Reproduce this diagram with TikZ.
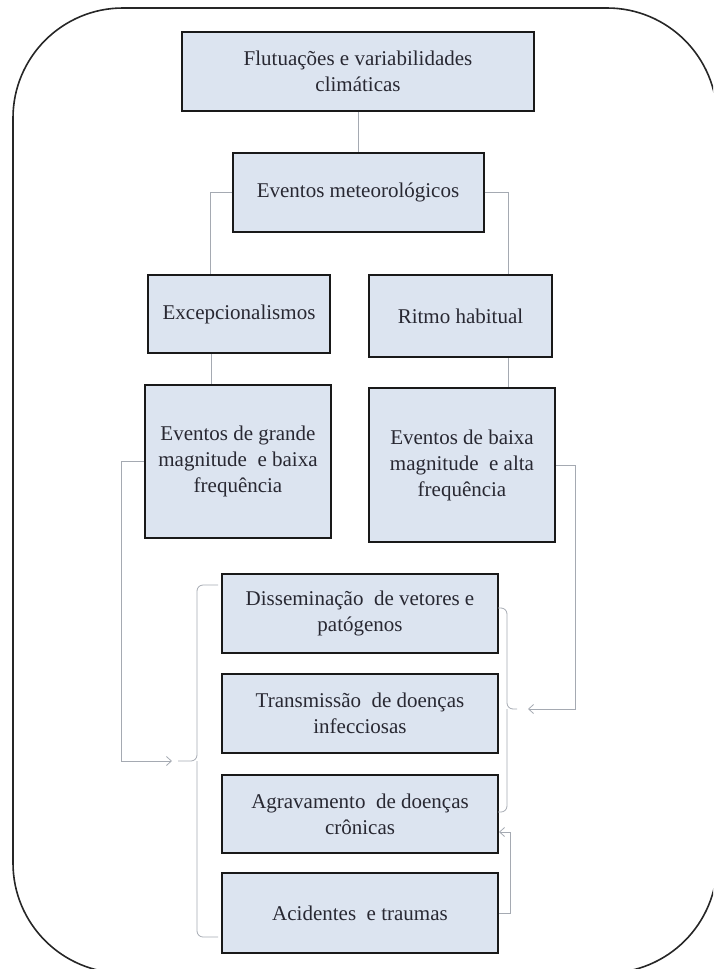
\documentclass[tikz,border=0pt]{standalone}
\usepackage{fontspec}
\setmainfont{Liberation Serif}
\usetikzlibrary{arrows.meta}
\definecolor{boxfill}{RGB}{220,228,240}
\definecolor{linkgray}{RGB}{165,170,178}
\definecolor{textgray}{RGB}{40,40,50}

\begin{document}
\begin{tikzpicture}[x=1pt, y=-1pt,
    every node/.style={draw=black!90, line width=2pt, fill=boxfill, align=center, inner sep=0pt,
        text=textgray, font=\fontsize{21}{26}\selectfont},
    link/.style={draw=linkgray, line width=0.8pt},
    feed/.style={link, -{Straight Barb[length=5pt,width=9pt]}}]
    \useasboundingbox (0,0) rectangle (713,969);

    % Frame
    \begin{scope}
        \clip (0,0) rectangle (713,969);
        \draw[line width=1.6pt, draw=black!85, rounded corners=110pt] (13,8) rectangle (717,973);
    \end{scope}

    % Nodes
    \node[minimum width=352pt, minimum height=79pt] (clima) at (358, 71.5) {Flutuações e variabilidades\\climáticas};
    \node[minimum width=251pt, minimum height=79pt] (meteo) at (358, 192.5) {Eventos meteorológicos};
    \node[minimum width=182pt, minimum height=78pt] (excep) at (239, 314) {Excepcionalismos};
    \node[minimum width=183pt, minimum height=82pt] (ritmo) at (460.5, 316) {Ritmo habitual};
    \node[minimum width=186pt, minimum height=153pt] (grande) at (238, 461.5) {Eventos de grande\\magnitude\ \ e baixa\\frequência};
    \node[minimum width=186pt, minimum height=154pt] (baixa) at (462, 465) {Eventos de baixa\\magnitude\ \ e alta\\frequência};
    \node[minimum width=276pt, minimum height=79pt] (dissem) at (360, 613.5) {Disseminação\ \ de vetores e\\patógenos};
    \node[minimum width=276pt, minimum height=79pt] (transm) at (360, 713.5) {Transmissão\ \ de doenças\\infecciosas};
    \node[minimum width=276pt, minimum height=78pt] (agrav) at (360, 814) {Agravamento\ \ de doenças\\crônicas};
    \node[minimum width=276pt, minimum height=80pt] (acid) at (360, 913) {Acidentes\ \ e traumas};

    % Brace points
    \coordinate (ltop) at (218, 585);
    \coordinate (lbot) at (218, 937);
    \coordinate (lbrace) at (178, 761);
    \coordinate (rtop) at (498, 608);
    \coordinate (rbot) at (498, 812);
    \coordinate (rbrace) at (517, 709);

    % Edges
    \draw[link] (clima.south) -- (meteo.north);
    \draw[link] (meteo.west) -| ([xshift=-29pt]excep.north);
    \draw[link] (meteo.east) -| ([xshift=48pt]ritmo.north);
    \draw[link] ([xshift=-28pt]excep.south) -- ([xshift=-28pt]excep.south |- grande.north);
    \draw[link] ([xshift=48pt]ritmo.south) -- ([xshift=48pt]ritmo.south |- baixa.north);

    % Braces
    \draw[link, rounded corners=6pt] (ltop) -| (197, 761) -- (lbrace);
    \draw[link, rounded corners=6pt] (lbot) -| (197, 761);
    \draw[link, rounded corners=6pt] (rtop) -| (507, 709) -- (rbrace);
    \draw[link, rounded corners=6pt] (rbot) -| (507, 709);

    % Feedback arrows
    \draw[feed] (grande.west) -- ++(-23, 0) |- ([xshift=-6pt]lbrace);
    \draw[feed] (baixa.east) -- ++(19, 0) |- ([xshift=11pt]rbrace);
    \draw[feed] (acid.east) -- ++(11, 0) |- ([yshift=-18pt]agrav.east);
\end{tikzpicture}
\end{document}
